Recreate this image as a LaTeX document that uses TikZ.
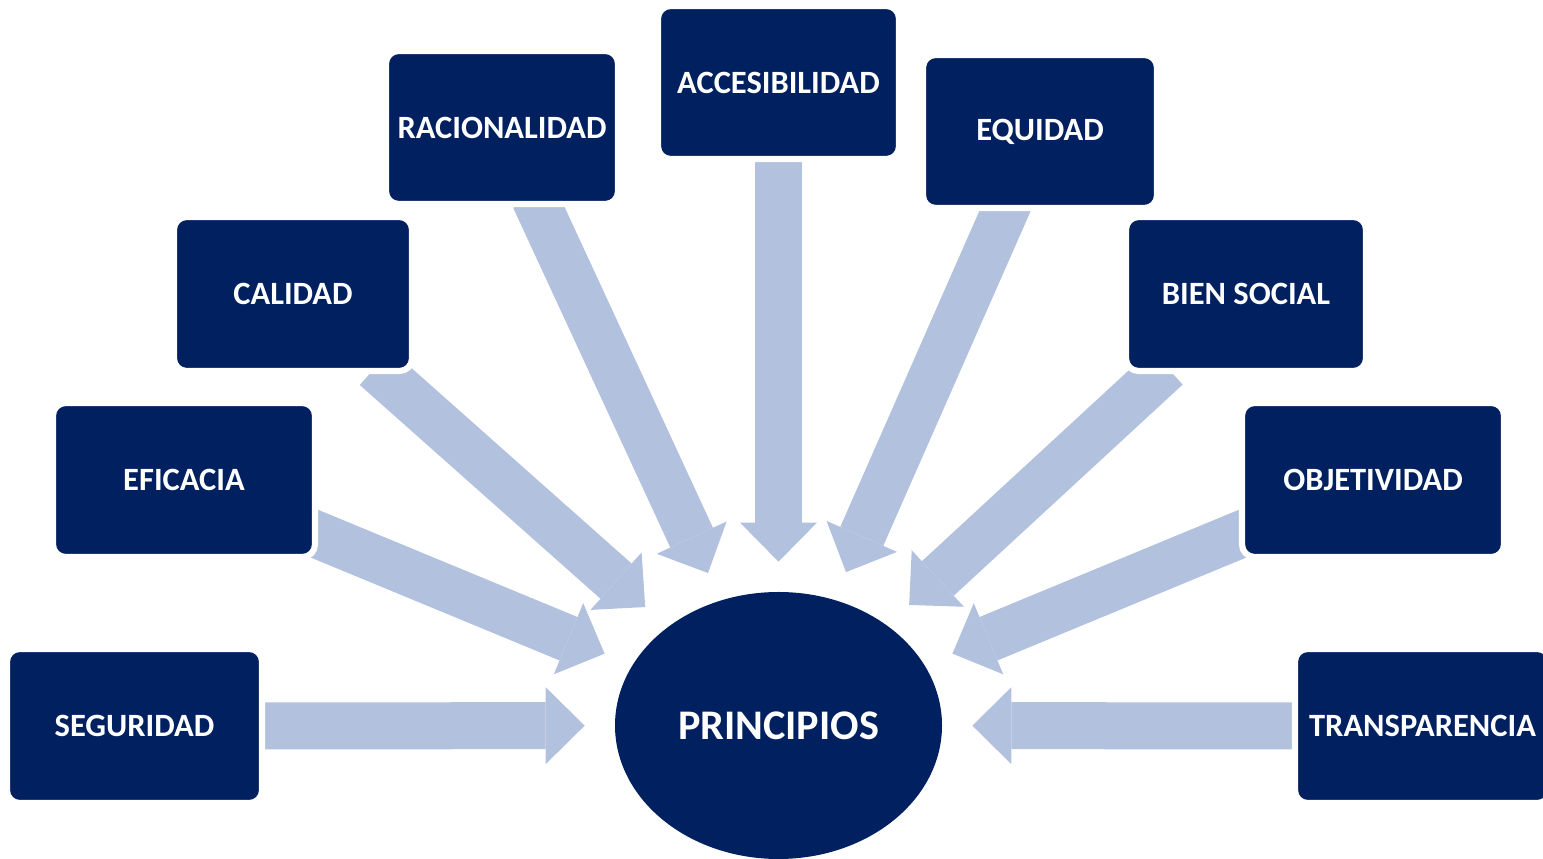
\documentclass[tikz,border=0pt]{standalone}
\usepackage{fontspec}
\setmainfont{Carlito}
\usetikzlibrary{shapes.geometric,arrows.meta,backgrounds}
\definecolor{navy}{RGB}{0,32,96}
\definecolor{arrowblue}{RGB}{178,193,221}

\begin{document}
\begin{tikzpicture}[
    box/.style={rectangle, rounded corners=0.25cm, fill=navy, draw=white, line width=3.5pt,
        minimum height=3.08cm, inner sep=0pt, text=white, font=\bfseries\fontsize{18.5}{20}\selectfont},
    bigarrow/.style={arrowblue, line width=0.94cm,
        -{Triangle[width=1.54cm, length=0.78cm, line width=0pt]},
        shorten <=-0.2cm, shorten >=0.6cm}
]
    \useasboundingbox (0,0) rectangle (30.86,17.18);

    % Centre
    \node[ellipse, fill=navy, minimum width=6.54cm, minimum height=5.34cm, inner sep=0pt,
        text=white, font=\bfseries\fontsize{24}{26}\selectfont] (principios) at (15.57,2.67) {PRINCIPIOS};

    % Left side
    \node[box, minimum width=5.10cm] (seguridad) at (2.69,2.66) {SEGURIDAD};
    \node[box, minimum width=5.24cm] (eficacia) at (3.68,7.58) {EFICACIA};
    \node[box, minimum width=4.76cm] (calidad) at (5.86,11.30) {CALIDAD};
    \node[box, minimum width=4.64cm, minimum height=3.06cm] (racionalidad) at (10.04,14.63) {RACIONALIDAD};

    % Top
    \node[box, minimum width=4.82cm, minimum height=3.06cm] (accesibilidad) at (15.57,15.53) {ACCESIBILIDAD};

    % Right side
    \node[box, minimum width=4.68cm, minimum height=3.06cm] (equidad) at (20.80,14.55) {EQUIDAD};
    \node[box, minimum width=4.80cm] (biensocial) at (24.92,11.30) {BIEN SOCIAL};
    \node[box, minimum width=5.24cm] (objetividad) at (27.46,7.58) {OBJETIVIDAD};
    \node[box, minimum width=5.10cm] (transparencia) at (28.45,2.66) {TRANSPARENCIA};

    % Block arrows behind the boxes
    \begin{pgfonlayer}{background}
        \foreach \src in {seguridad,eficacia,calidad,racionalidad,accesibilidad,equidad,biensocial,objetividad,transparencia}
            \draw[bigarrow] (\src) -- (principios);
    \end{pgfonlayer}
\end{tikzpicture}
\end{document}
